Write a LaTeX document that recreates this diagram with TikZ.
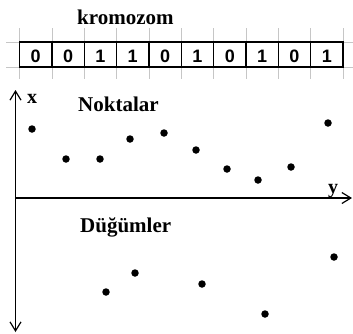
\documentclass[tikz,border=0pt]{standalone}
\usepackage{fontspec}
\setmainfont{Liberation Serif}
\newfontfamily\bitfont{Liberation Sans}
\usepackage{tikz}
\usetikzlibrary{arrows.meta}

\begin{document}
\begin{tikzpicture}[x=1pt, y=-1pt, >={Straight Barb[length=9pt, width=11pt]},
    dot/.style={circle, fill=black, inner sep=0pt, minimum size=7.5pt},
    bit/.style={font=\bitfont\bfseries\fontsize{18}{18}\selectfont, anchor=base, inner sep=0pt},
    heading/.style={font=\bfseries\fontsize{21}{21}\selectfont, anchor=base west, inner sep=0pt},
    axislabel/.style={font=\bfseries\fontsize{20}{20}\selectfont, anchor=base west, inner sep=0pt}]

    \useasboundingbox (0,0) rectangle (353,333);

    % ==========================================
    % Chromosome
    % ==========================================
    \def\W{32.35}
    \def\L{19.5}
    \node[heading] (kromo) at (77,24) {kromozom};

    % grey guide lines
    \foreach \i in {0,...,10}
        \draw[gray!45] ({\L+\i*\W},28) -- ({\L+\i*\W},79);
    \draw[gray!45] (6,42) -- (353,42);
    \draw[gray!45] (6,67) -- (353,67);

    % cells
    \foreach \b [count=\i from 0] in {0,0,1,1,0,1,0,1,0,1} {
        \draw[line width=1.3pt] ({\L+\i*\W},42) rectangle ({\L+(\i+1)*\W},67);
        \node[bit] (bit\i) at ({\L+(\i+0.5)*\W},62) {\b};
    }

    % ==========================================
    % Axes
    % ==========================================
    \coordinate (O) at (15.5,198);
    \coordinate (Top) at (15.5,90);
    \coordinate (Bottom) at (15.5,332);
    \coordinate (Right) at (352,198);
    \draw[<->, line width=1.2pt] (Top) -- (Bottom);
    \draw[->, line width=1.2pt] (O) -- (Right);
    \node[axislabel] (xlab) at (27,103) {x};
    \node[axislabel] (ylab) at (328,193) {y};

    % ==========================================
    % Points (upper half)
    % ==========================================
    \node[heading] (noktalar) at (78,111.5) {Noktalar};
    \foreach \px/\py [count=\k] in {32/129, 66/159, 100/159, 130/139, 164/133,
            196/150, 227/169, 258/180, 291/167, 328/123}
        \node[dot] (p\k) at (\px,\py) {};

    % ==========================================
    % Nodes (lower half)
    % ==========================================
    \node[heading] (dugumler) at (80,232) {Düğümler};
    \foreach \px/\py [count=\k] in {106/292, 135/273, 202/284, 265/314, 334/257}
        \node[dot] (d\k) at (\px,\py) {};

\end{tikzpicture}
\end{document}
